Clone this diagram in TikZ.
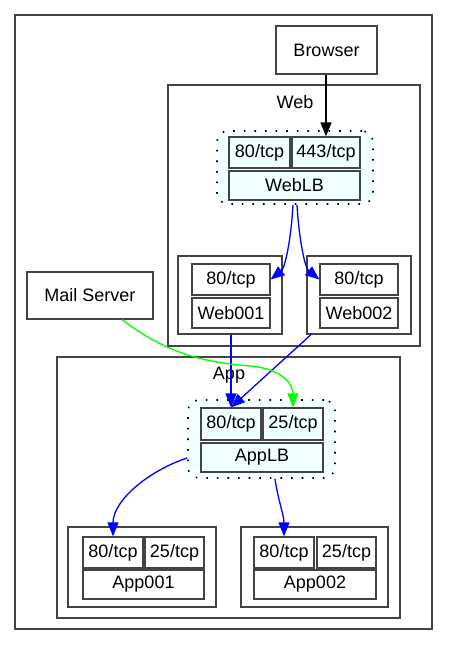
\documentclass[tikz,border=0pt]{standalone}
\usepackage{fontspec}
\setmainfont{Liberation Sans}
\usetikzlibrary{arrows.meta}
\definecolor{lbfill}{HTML}{F0FFFF}
\definecolor{linegray}{HTML}{444444}
\tikzset{
  box/.style={draw=linegray, line width=1.2pt, inner sep=0pt, font=\fontsize{18}{21}\selectfont},
  frame/.style={box, fill=white},
  cell/.style={box, fill=white},
  lbcell/.style={box, fill=lbfill},
  lbgroup/.style={draw=black, fill=lbfill, line width=1.6pt, dash pattern=on 1.6pt off 9pt, rounded corners=11pt, inner sep=0pt},
  lbl/.style={inner sep=0pt, font=\fontsize{18}{21}\selectfont},
  arr/.style={-{Triangle[length=14pt,width=11pt]}, line width=1.3pt},
}
\begin{document}
\begin{tikzpicture}[x=1pt,y=-1pt]
\useasboundingbox (0,0) rectangle (448,645);
% outer frame
\node[frame, minimum width=417, minimum height=614] (outer) at (223.5,322) {};
% Web cluster
\node[frame, minimum width=252, minimum height=261] (web) at (294,215.5) {};
\node[lbl] (weblabel) at (295,102) {Web};
% App cluster
\node[frame, minimum width=343, minimum height=261] (app) at (228.5,487.5) {};
\node[lbl] (applabel) at (229,375) {App};
% Browser
\node[frame, minimum width=101, minimum height=48] (browser) at (326.5,50) {Browser};
% Mail Server
\node[frame, minimum width=126, minimum height=47] (mail) at (90,295.5) {Mail Server};
% WebLB
\node[lbgroup, minimum width=156, minimum height=73] (wlbg) at (295,167.5) {};
\node[lbcell, minimum width=61, minimum height=31] (w80) at (259.5,152.5) {80/tcp};
\node[lbcell, minimum width=68, minimum height=31] (w443) at (326,152.5) {443/tcp};
\node[lbcell, minimum width=131, minimum height=29] (weblb) at (294.5,185.5) {WebLB};
% Web001
\node[frame, minimum width=104, minimum height=78] (web001) at (230,295) {};
\node[cell, minimum width=78, minimum height=31] (w1p80) at (231,279.5) {80/tcp};
\node[cell, minimum width=78, minimum height=30] (w1name) at (231,313) {Web001};
% Web002
\node[frame, minimum width=104, minimum height=78] (web002) at (359,295) {};
\node[cell, minimum width=78, minimum height=31] (w2p80) at (359,279.5) {80/tcp};
\node[cell, minimum width=78, minimum height=30] (w2name) at (359,313) {Web002};
% AppLB
\node[lbgroup, minimum width=147, minimum height=78] (alg) at (261.5,439) {};
\node[lbcell, minimum width=60, minimum height=32] (a80) at (231,424) {80/tcp};
\node[lbcell, minimum width=60, minimum height=32] (a25) at (293,424) {25/tcp};
\node[lbcell, minimum width=122, minimum height=29] (applb) at (262,457.5) {AppLB};
% App001
\node[frame, minimum width=148, minimum height=80] (app001) at (142,567) {};
\node[cell, minimum width=60, minimum height=31] (a1p80) at (113,552.5) {80/tcp};
\node[cell, minimum width=59, minimum height=31] (a1p25) at (174.5,552.5) {25/tcp};
\node[cell, minimum width=121, minimum height=29] (a1name) at (143.5,584.5) {App001};
% App002
\node[frame, minimum width=147, minimum height=80] (app002) at (314.5,567) {};
\node[cell, minimum width=60, minimum height=31] (a2p80) at (284,552.5) {80/tcp};
\node[cell, minimum width=59, minimum height=31] (a2p25) at (346.5,552.5) {25/tcp};
\node[cell, minimum width=122, minimum height=29] (a2name) at (315,584.5) {App002};
% edges
\draw[arr, black] (browser.south -| w443.north) -- (w443.north);
\draw[arr, blue] ([xshift=-2pt]wlbg.south) .. controls (291,240) and (285,268) .. (w1p80.east);
\draw[arr, blue] ([xshift=2pt]wlbg.south) .. controls (299,240) and (305,268) .. (w2p80.west);
\draw[arr, blue] (web001.south -| a80.north) -- (a80.north);
\draw[arr, blue] ([xshift=-48pt]web002.south) -- (a80.north);
\draw[arr, green] ([xshift=32pt]mail.south) .. controls (165,352) and (200,362) .. (250,366) .. controls (284,369) and (293,385) .. (a25.north);
\draw[arr, blue] ([yshift=-19pt]alg.west) .. controls (150,470) and (113,500) .. (a1p80.north);
\draw[arr, blue] ([xshift=13.5pt]alg.south) .. controls (278,500) and (284,515) .. (a2p80.north);
\end{tikzpicture}
\end{document}
